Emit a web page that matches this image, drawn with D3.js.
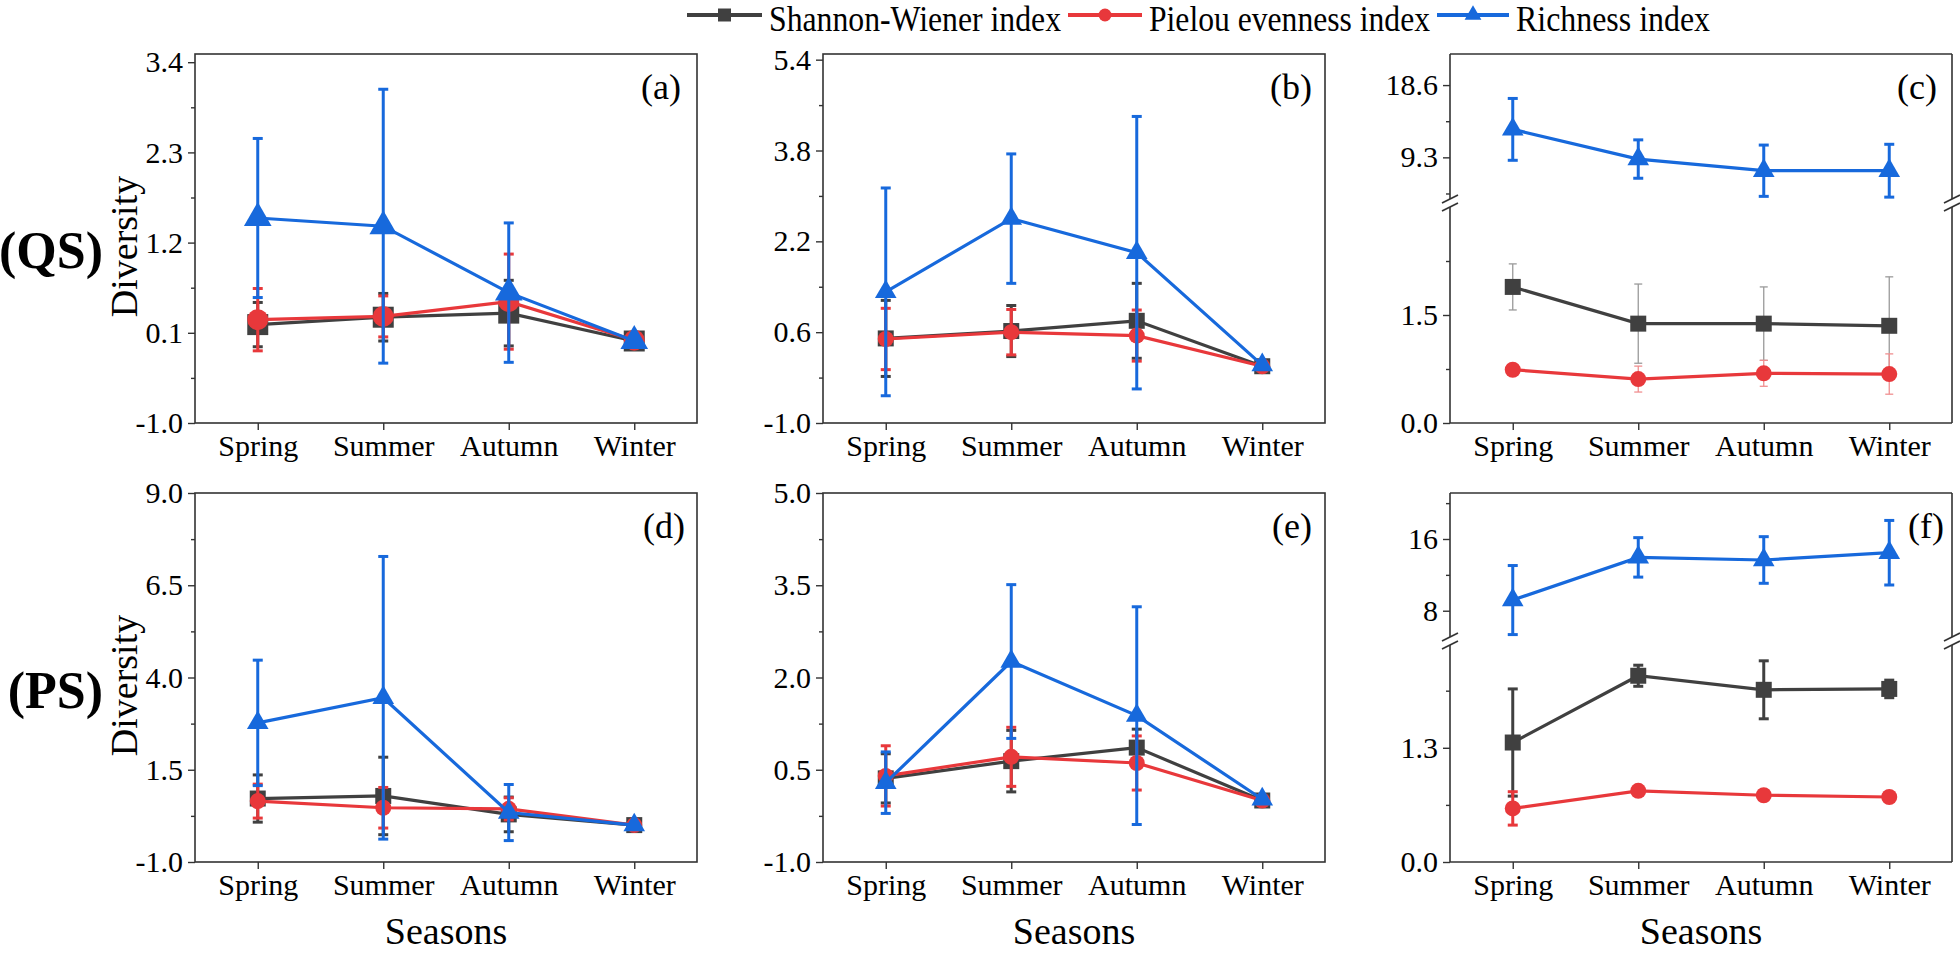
<!DOCTYPE html>
<html><head><meta charset="utf-8">
<script src="https://cdn.jsdelivr.net/npm/d3@7"></script>
<style>
body{margin:0;background:#fff}
svg{display:block}
</style>
</head><body>
<svg id="chart" width="1960" height="954" font-family="'Liberation Serif', 'Times New Roman', Times, serif"></svg>
<script>
// ---------------- DATA ----------------
const seasons = ["Spring", "Summer", "Autumn", "Winter"];
const seriesNames = ["Shannon-Wiener index", "Pielou evenness index", "Richness index"];
const panelLabels = ["(a)", "(b)", "(c)", "(d)", "(e)", "(f)"];
const rowLabels = ["(QS)", "(PS)"];
const yTitle = "Diversity";
const xTitle = "Seasons";

// one row per panel (a..f), one value per season
const shannonMean = [
  [0.20, 0.29, 0.34, 0.00],
  [0.49, 0.62, 0.80, 0.00],
  [1.89, 1.38, 1.38, 1.35],
  [0.72, 0.79, 0.29, 0.00],
  [0.36, 0.64, 0.86, 0.00],
  [1.36, 2.12, 1.96, 1.97]
];
const shannonErr = [
  [0.27, 0.29, 0.40, 0.02],
  [0.67, 0.45, 0.66, 0.03],
  [0.32, 0.55, 0.51, 0.68],
  [0.64, 1.05, 0.47, 0.03],
  [0.40, 0.50, 0.30, 0.03],
  [0.61, 0.12, 0.33, 0.10]
];
const pielouMean = [
  [0.26, 0.30, 0.48, 0.01],
  [0.48, 0.60, 0.54, 0.00],
  [0.74, 0.61, 0.69, 0.68],
  [0.65, 0.47, 0.44, 0.00],
  [0.40, 0.71, 0.61, 0.00],
  [0.61, 0.81, 0.76, 0.74]
];
const pielouErr = [
  [0.38, 0.25, 0.58, 0.02],
  [0.54, 0.40, 0.45, 0.03],
  [0.03, 0.18, 0.18, 0.28],
  [0.46, 0.55, 0.30, 0.03],
  [0.49, 0.48, 0.44, 0.03],
  [0.19, 0.03, 0.05, 0.02]
];
const richnessMean = [
  [1.50, 1.40, 0.59, 0.00],
  [1.31, 2.60, 2.00, 0.02],
  [12.9, 9.08, 7.58, 7.58],
  [2.77, 3.45, 0.34, 0.00],
  [0.29, 2.26, 1.38, 0.02],
  [9.19, 13.95, 13.66, 14.47]
];
const richnessErr = [
  [0.97, 1.67, 0.85, 0.02],
  [1.83, 1.14, 2.40, 0.03],
  [3.98, 2.47, 3.30, 3.40],
  [1.70, 3.83, 0.76, 0.03],
  [0.50, 1.25, 1.77, 0.03],
  [3.85, 2.20, 2.60, 3.60]
];

// tick labels
const ticksA = [-1.0, 0.1, 1.2, 2.3, 3.4];
const ticksB = [-1.0, 0.6, 2.2, 3.8, 5.4];
const ticksCLow = [0.0, 1.5];
const ticksCHigh = [9.3, 18.6];
const ticksD = [-1.0, 1.5, 4.0, 6.5, 9.0];
const ticksE = [-1.0, 0.5, 2.0, 3.5, 5.0];
const ticksFLow = [0.0, 1.3];
const ticksFHigh = [8, 16];

// ---------------- LAYOUT / STYLE ----------------
const FONT = "'Liberation Serif', 'Times New Roman', Times, serif";
const colors = ["#404040", "#e8383b", "#1769dc"];
const thinColors = ["#9a9a9a", "#f08f90", "#1769dc"];
const colX = [195, 823, 1450];
const rowY = [54, 493];
const pw = 502, ph = 369;
const axisColor = "#333";
const f1 = v => v.toFixed(1);
const f0 = v => v.toFixed(0);

const panels = [
  {col:0, row:0, domain:[-1, 3.5], ticks:ticksA, minor:[-0.45, 0.65, 1.75, 2.85], fmt:f1, msz:21, ldx:16},
  {col:1, row:0, domain:[-1, 5.5], ticks:ticksB, minor:[-0.2, 1.4, 3.0, 4.6], fmt:f1, msz:16, ldx:13},
  {col:2, row:0, broken:true, thin:true, msz:16, ldx:15,
    low:{domain:[0, 3.0], range:[ph, 153], ticks:ticksCLow, minor:[0.75, 2.25], fmt:f1},
    high:{domain:[3.94, 22.6], range:[145, 0], ticks:ticksCHigh, minor:[4.65, 13.95], fmt:f1}},
  {col:0, row:1, domain:[-1, 9], ticks:ticksD, minor:[0.25, 2.75, 5.25, 7.75], fmt:f1, msz:16, ldx:12},
  {col:1, row:1, domain:[-1, 5], ticks:ticksE, minor:[-0.25, 1.25, 2.75, 4.25], fmt:f1, msz:16, ldx:13},
  {col:2, row:1, broken:true, msz:16, ldx:8,
    low:{domain:[0, 2.47], range:[ph, 152], ticks:ticksFLow, minor:[0.65, 1.95], fmt:f1},
    high:{domain:[5.07, 21.13], range:[144, 0], ticks:ticksFHigh, minor:[12, 20], fmt:f0}}
];

const svg = d3.select("#chart");
const means = [shannonMean, pielouMean, richnessMean];
const errs = [shannonErr, pielouErr, richnessErr];

function marker(k, sz) {
  if (k === 0) return d3.symbol(d3.symbolSquare, sz * sz)();
  if (k === 1) return d3.symbol(d3.symbolCircle, Math.PI * (sz / 2) * (sz / 2))();
  const side = sz * 1.2;
  return d3.symbol(d3.symbolTriangle, Math.sqrt(3) / 4 * side * side)();
}

function drawYAxis(g, scale, ticks, minor, fmt) {
  const ax = g.append("g").call(d3.axisLeft(scale).tickValues(ticks).tickFormat(fmt).tickSize(7).tickPadding(5));
  ax.select(".domain").remove();
  ax.attr("font-family", FONT).attr("font-size", 30);
  ax.selectAll("line").attr("stroke", axisColor).attr("stroke-width", 1.4);
  const mn = g.append("g").call(d3.axisLeft(scale).tickValues(minor).tickFormat("").tickSize(4));
  mn.select(".domain").remove();
  mn.selectAll("line").attr("stroke", axisColor).attr("stroke-width", 1.4);
}

panels.forEach((p, pi) => {
  const g = svg.append("g").attr("transform", `translate(${colX[p.col]},${rowY[p.row]})`);
  const x = d3.scalePoint().domain(seasons).range([0, pw]).padding(0.5);

  let yLow, yHigh;
  if (p.broken) {
    yLow = d3.scaleLinear().domain(p.low.domain).range(p.low.range);
    yHigh = d3.scaleLinear().domain(p.high.domain).range(p.high.range);
    drawYAxis(g, yLow, p.low.ticks, p.low.minor, p.low.fmt);
    drawYAxis(g, yHigh, p.high.ticks, p.high.minor, p.high.fmt);
  } else {
    yLow = yHigh = d3.scaleLinear().domain(p.domain).range([ph, 0]);
    drawYAxis(g, yLow, p.ticks, p.minor, p.fmt);
  }

  // x axis
  const xa = g.append("g").attr("transform", `translate(0,${ph})`)
    .call(d3.axisBottom(x).tickSize(7).tickPadding(5));
  xa.select(".domain").remove();
  xa.attr("font-family", FONT).attr("font-size", 30);
  xa.selectAll("line").attr("stroke", axisColor).attr("stroke-width", 1.4);

  // frame
  const fr = g.append("g").attr("stroke", axisColor).attr("stroke-width", 1.6).attr("fill", "none");
  if (p.broken) {
    const yb1 = p.high.range[0], yb2 = p.low.range[1];
    fr.append("line").attr("x1", 0).attr("x2", pw).attr("y1", 0).attr("y2", 0);
    fr.append("line").attr("x1", 0).attr("x2", pw).attr("y1", ph).attr("y2", ph);
    [0, pw].forEach(xx => {
      fr.append("line").attr("x1", xx).attr("x2", xx).attr("y1", 0).attr("y2", yb1);
      fr.append("line").attr("x1", xx).attr("x2", xx).attr("y1", yb2).attr("y2", ph);
      [yb1, yb2].forEach(yy => {
        fr.append("line").attr("x1", xx - 8).attr("x2", xx + 8).attr("y1", yy + 4).attr("y2", yy - 4);
      });
    });
  } else {
    fr.append("rect").attr("x", 0).attr("y", 0).attr("width", pw).attr("height", ph);
  }

  // series
  [0, 1, 2].forEach(k => {
    const y = k === 2 ? yHigh : yLow;
    const m = means[k][pi], e = errs[k][pi];
    const data = seasons.map((s, i) => ({s, v: m[i], e: e[i]}));
    const thin = p.thin && k < 2;
    const ecol = thin ? thinColors[k] : colors[k];
    const sg = g.append("g");
    sg.append("path").datum(data)
      .attr("d", d3.line().x(d => x(d.s)).y(d => y(d.v)))
      .attr("fill", "none").attr("stroke", colors[k]).attr("stroke-width", 3.2);
    const eb = sg.append("g").attr("stroke", ecol).attr("stroke-width", thin ? 1.3 : 3);
    const cw = thin ? 4 : 5;
    data.forEach(d => {
      const y1 = y(d.v + d.e), y2 = y(d.v - d.e), xx = x(d.s);
      eb.append("line").attr("x1", xx).attr("x2", xx).attr("y1", y1).attr("y2", y2);
      eb.append("line").attr("x1", xx - cw).attr("x2", xx + cw).attr("y1", y1).attr("y2", y1);
      eb.append("line").attr("x1", xx - cw).attr("x2", xx + cw).attr("y1", y2).attr("y2", y2);
    });
    sg.selectAll("path.mk").data(data).join("path").attr("class", "mk")
      .attr("transform", d => `translate(${x(d.s)},${y(d.v)})`)
      .attr("d", marker(k, k === 2 ? p.msz + 2 : p.msz))
      .attr("fill", colors[k]);
  });

  // panel label
  g.append("text").attr("x", pw - p.ldx).attr("y", 45).attr("text-anchor", "end")
    .attr("font-size", 36).text(panelLabels[pi]);

  // axis titles
  if (p.col === 0) {
    g.append("text").attr("transform", `translate(${137 - colX[0]},${ph / 2 + 8}) rotate(-90)`)
      .attr("text-anchor", "middle").attr("font-size", 38).text(yTitle);
  }
  if (p.row === 1) {
    g.append("text").attr("x", pw / 2).attr("y", 944 - rowY[1])
      .attr("text-anchor", "middle").attr("font-size", 38).text(xTitle);
  }
});

// row labels
svg.append("text").attr("x", 103).attr("y", 268).attr("text-anchor", "end")
  .attr("font-size", 52).attr("font-weight", "bold").text(rowLabels[0]);
svg.append("text").attr("x", 103).attr("y", 708).attr("text-anchor", "end")
  .attr("font-size", 52).attr("font-weight", "bold").text(rowLabels[1]);

// legend
const legPos = [{x0:687, x1:762, tx:769, w:292}, {x0:1068, x1:1142, tx:1149, w:281}, {x0:1437, x1:1509, tx:1516, w:194}];
const lg = svg.append("g");
legPos.forEach((lp, k) => {
  lg.append("line").attr("x1", lp.x0).attr("x2", lp.x1).attr("y1", 15).attr("y2", 15)
    .attr("stroke", colors[k]).attr("stroke-width", 4);
  lg.append("path").attr("transform", `translate(${(lp.x0 + lp.x1) / 2},15)`)
    .attr("d", marker(k, k === 2 ? 14 : 13)).attr("fill", colors[k]);
  lg.append("text").attr("x", lp.tx).attr("y", 31).attr("font-size", 35)
    .attr("textLength", lp.w).attr("lengthAdjust", "spacingAndGlyphs").text(seriesNames[k]);
});

svg.selectAll("text").style("font-family", FONT).style("fill", "#000");
</script>
</body></html>
